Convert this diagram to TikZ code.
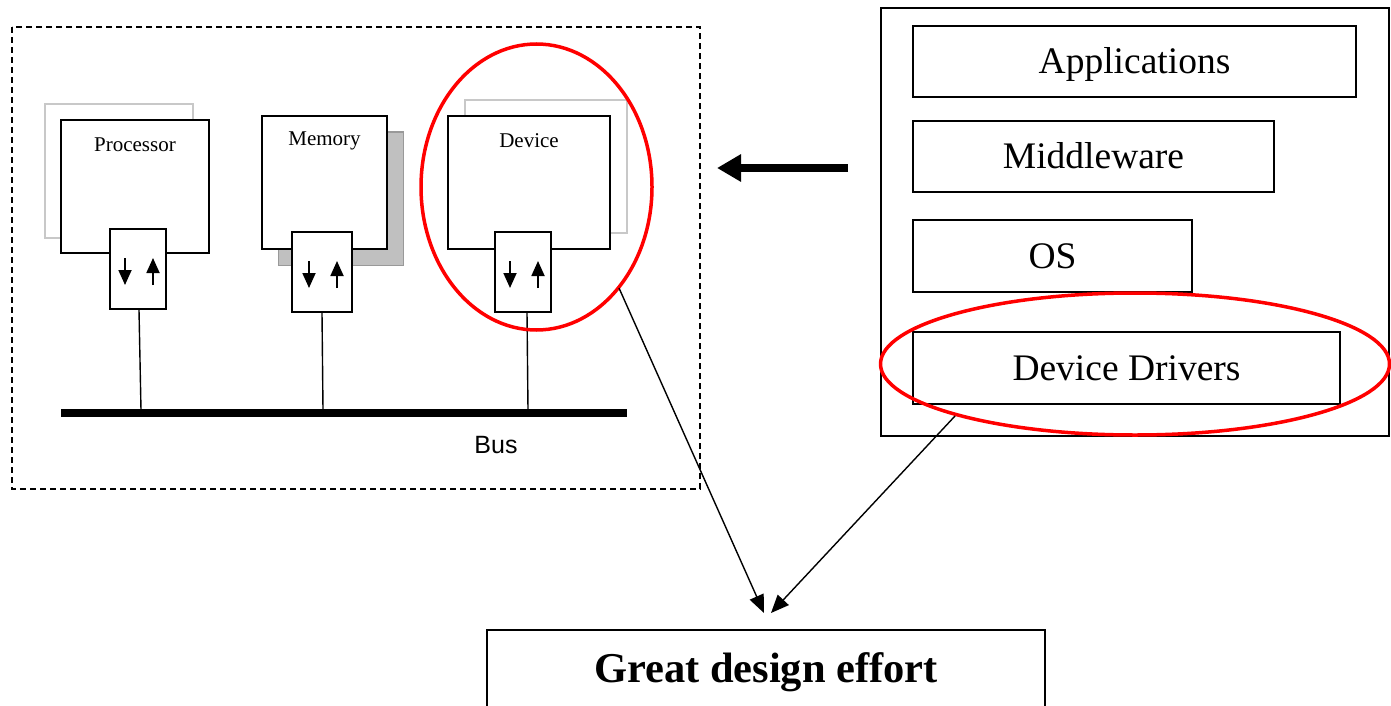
\documentclass[tikz,border=0pt]{standalone}
\usepackage{fontspec}
\setmainfont{Liberation Serif}
\setsansfont{Liberation Sans}
\usetikzlibrary{arrows.meta,shapes.geometric}
\definecolor{ghost}{HTML}{C8C8C8}
\definecolor{shade}{HTML}{C0C0C0}
\definecolor{mark}{HTML}{FF0000}
\tikzset{
  box/.style={draw=black, line width=1.8pt, fill=white, rectangle, inner sep=0pt},
  backbox/.style={draw=ghost, line width=1.8pt, fill=white, rectangle, inner sep=0pt},
  shadowbox/.style={draw=gray!80, line width=1pt, fill=shade, rectangle, inner sep=0pt},
  small/.style={font=\fontsize{21}{24}\selectfont},
  big/.style={font=\fontsize{37.5}{42}\selectfont, text height=24.8pt, text depth=0pt},
  port/.style={box, minimum width=56pt, minimum height=80pt},
  dirarrow/.style={line width=1.8pt, -{Triangle[length=15pt,width=13pt]}},
  wire/.style={line width=1.4pt},
  ring/.style={draw=mark, line width=3.5pt, ellipse, inner sep=0pt},
  link/.style={line width=1.4pt, -{Triangle[length=18pt,width=15pt]}}
}
\begin{document}
\begin{tikzpicture}[x=1pt,y=-1pt]
\useasboundingbox (0,0) rectangle (1391,706);
\fill[white] (0,0) rectangle (1391,706);

% hardware side
\draw[line width=1.5pt, dash pattern=on 6pt off 4pt] (12,27) rectangle (700,489);

% processor
\node[backbox, minimum width=148pt, minimum height=134pt] (procback) at (119,171) {};
\node[box, minimum width=148pt, minimum height=133pt] (proc) at (135,186.5) {};
\node[small] (proctxt) at (135,145) {Processor};
\node[port] (procport) at (138,269) {};

% memory
\node[shadowbox, minimum width=125pt, minimum height=133pt] (memshadow) at (340.5,198.5) {};
\node[box, minimum width=125pt, minimum height=133pt] (mem) at (324.5,182.5) {};
\node[small] (memtxt) at (324.5,141) {Memory};
\node[port, minimum width=60pt] (memport) at (322,272) {};

% device
\node[backbox, minimum width=162pt, minimum height=133pt] (devback) at (546,166.5) {};
\node[box, minimum width=162pt, minimum height=133pt] (dev) at (529,182.5) {};
\node[small] (devtxt) at (529,141) {Device};
\node[port] (devport) at (523,272) {};

% transfer arrows inside each port: down on the left, up on the right
\foreach \p in {procport, memport, devport}{
  \draw[dirarrow] ([xshift=-13pt,yshift=11pt]\p.center) -- ([xshift=-13pt,yshift=-16pt]\p.center);
  \draw[dirarrow] ([xshift=15pt,yshift=-16pt]\p.center) -- ([xshift=15pt,yshift=11pt]\p.center);
}

% bus
\coordinate (busL) at (61,413);
\coordinate (busR) at (627,413);
\draw[line width=7.5pt] (busL) -- (busR);
\coordinate (tapP) at (141,410);
\coordinate (tapM) at (323,410);
\coordinate (tapD) at (528,410);
\draw[wire] (procport.south) ++(1,0) -- (tapP);
\draw[wire] (memport.south) -- (tapM);
\draw[wire] (devport.south) ++(4,0) -- (tapD);
\node[font=\sffamily\fontsize{25}{28}\selectfont] (bustxt) at (496,445) {Bus};

% software stack
\node[draw, line width=1.8pt, rectangle, minimum width=508pt, minimum height=428pt, inner sep=0pt] (stack) at (1135,222) {};
\node[box, big, minimum width=443pt, minimum height=71pt] (apps) at (1134.5,61.5) {Applications};
\node[box, big, minimum width=361pt, minimum height=71pt] (mid) at (1093.5,156.5) {Middleware};
\node[box, big, minimum width=279pt, minimum height=72pt] (os) at (1052.5,256) {OS};
\node[box, big, minimum width=427pt, minimum height=72pt] (drv) at (1126.5,368) {Device Drivers};

% software runs on the hardware
\coordinate (swfrom) at (848,168);
\coordinate (hwto) at (717,168);
\draw[line width=7.5pt, -{Triangle[length=24pt,width=26pt]}] (swfrom) -- (hwto);

% highlights
\node[ring, minimum width=231pt, minimum height=286pt] (devring) at (536.5,187) {};
\node[ring, minimum width=509pt, minimum height=142pt] (drvring) at (1135,364) {};

% result
\node[box, minimum width=558pt, minimum height=100pt] (great) at (766,680) {};
\node[font=\bfseries\fontsize{42.5}{48}\selectfont, text height=28pt, text depth=0pt] (greattxt) at (766,668) {Great design effort};
\coordinate (devfrom) at (619,288);
\coordinate (drvfrom) at (955,416);
\coordinate (tipL) at (764,613);
\coordinate (tipR) at (771,613);
\draw[link] (devfrom) -- (tipL);
\draw[link] (drvfrom) -- (tipR);
\end{tikzpicture}
\end{document}
